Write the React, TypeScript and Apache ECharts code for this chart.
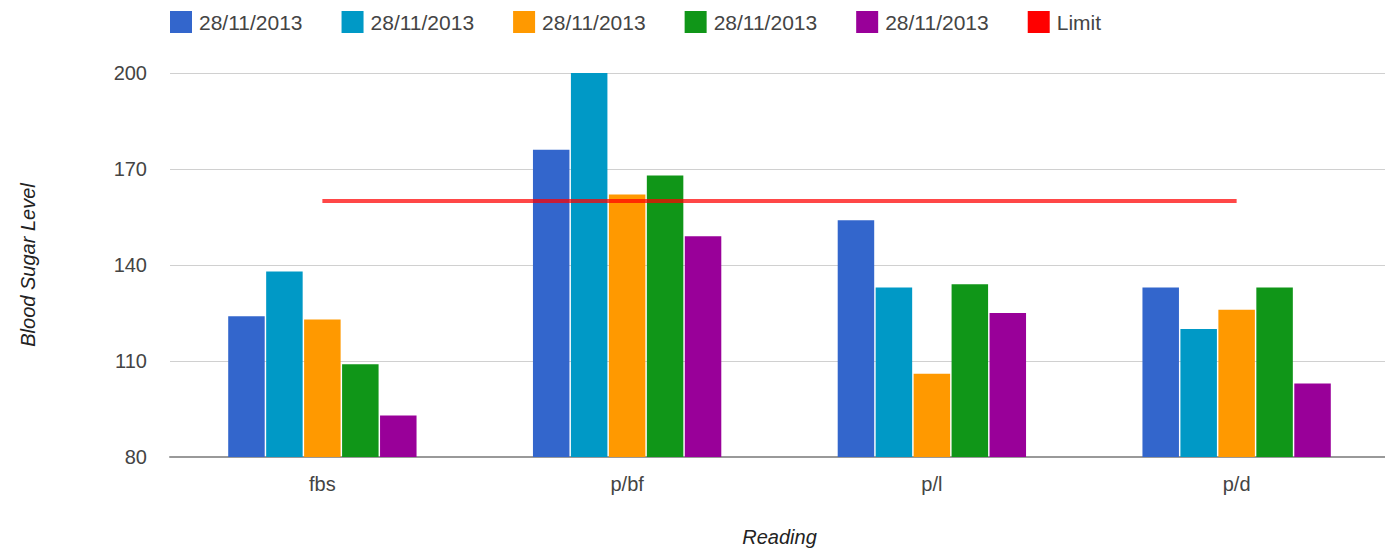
import React, { useEffect, useRef } from "react";
import * as echarts from "echarts";

const categories = ["fbs", "p/bf", "p/l", "p/d"];
const seriesNames = ["28/11/2013", "28/11/2013", "28/11/2013", "28/11/2013", "28/11/2013"];
const series1 = [124, 176, 154, 133];
const series2 = [138, 200, 133, 120];
const series3 = [123, 162, 106, 126];
const series4 = [109, 168, 134, 133];
const series5 = [93, 149, 125, 103];
const limitValues = [160, 160, 160, 160];
const colors = ["#3366cc", "#0099c6", "#ff9900", "#109618", "#990099"];
const limitColor = "#ff0000";

export default function App() {
  const ref = useRef<HTMLDivElement>(null);
  useEffect(() => {
    if (!ref.current) return;
    const chart = echarts.init(ref.current, null, { renderer: "svg" });
    const barData = [series1, series2, series3, series4, series5];
    const font = "Liberation Sans, Arial, sans-serif";
    chart.setOption({
      animation: false,
      textStyle: { fontFamily: font },
      legend: {
        left: 165,
        top: 6,
        icon: "rect",
        itemWidth: 22,
        itemHeight: 22,
        itemGap: 39,
        textStyle: { fontSize: 21, color: "#444", fontFamily: font, padding: [0, 0, 0, 2] },
        data: [
          ...seriesNames.map((n, i) => ({ name: n + "\u200b".repeat(i), itemStyle: { color: colors[i] } })),
          { name: "Limit", itemStyle: { color: limitColor } },
        ],
      },
      grid: { left: 170, right: -4, top: 73, bottom: 94, outerBoundsMode: "none", containLabel: false },
      xAxis: {
        type: "category",
        data: categories,
        name: "Reading",
        nameLocation: "middle",
        nameGap: 70,
        nameTextStyle: { fontSize: 20, fontStyle: "italic", color: "#222", fontFamily: font },
        axisLine: { lineStyle: { color: "#999", width: 2 } },
        axisTick: { show: false },
        axisLabel: { fontSize: 20, color: "#444", margin: 17, fontFamily: font },
      },
      yAxis: {
        type: "value",
        min: 80,
        max: 200,
        interval: 30,
        name: "Blood Sugar Level",
        nameLocation: "middle",
        nameGap: 132,
        nameTextStyle: { fontSize: 20, fontStyle: "italic", color: "#222", fontFamily: font },
        axisLine: { show: false },
        axisTick: { show: false },
        axisLabel: { fontSize: 20, color: "#444", margin: 23, fontFamily: font },
        splitLine: { lineStyle: { color: "#d0d0d0", width: 1 } },
      },
      series: [
        ...barData.map((d, i) => ({
          type: "bar",
          name: seriesNames[i] + "\u200b".repeat(i),
          data: d,
          barWidth: 36.5,
          barGap: "4%",
          itemStyle: { color: colors[i] },
        })),
        {
          type: "line",
          name: "Limit",
          data: limitValues,
          symbol: "none",
          z: 5,
          lineStyle: { color: limitColor, width: 4, opacity: 0.72 },
          itemStyle: { color: limitColor },
        },
      ],
    });
    return () => chart.dispose();
  }, []);
  return (
    <div
      ref={ref}
      style={{ position: "fixed", left: 0, top: 0, width: 1385, height: 551, background: "#fff" }}
    />
  );
}
